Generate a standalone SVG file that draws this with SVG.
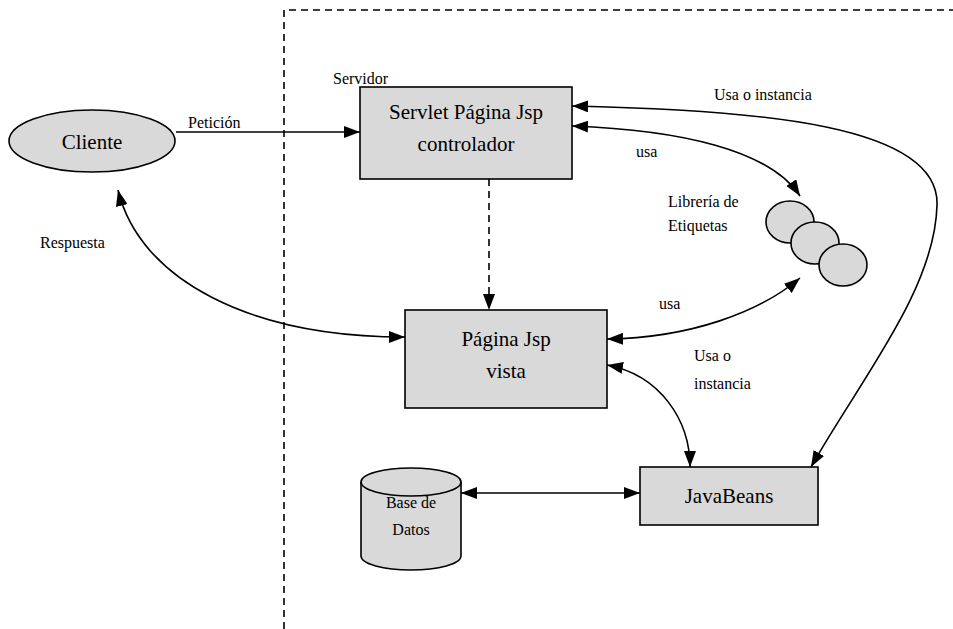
<svg xmlns="http://www.w3.org/2000/svg" width="953" height="629" viewBox="0 0 953 629">
<defs>
<marker id="ah" viewBox="0 0 16 12" refX="16" refY="6" markerWidth="16" markerHeight="12" markerUnits="userSpaceOnUse" orient="auto-start-reverse">
<path d="M0,0 L16,6 L0,12 Z" fill="#000"/>
</marker>
</defs>
<rect width="953" height="629" fill="#fff"/>
<g id="boundary">
<path d="M284,629 L284,10 L953,10" fill="none" stroke="#000" stroke-width="1.6" stroke-dasharray="7,5"/>
<text font-family="Liberation Serif" font-size="16" x="333" y="84">Servidor</text>
</g>
<g id="connectors" fill="none" stroke="#000" stroke-width="1.6">
<path d="M176,132 L360,132" marker-end="url(#ah)"/>
<path d="M572,106 C760,110 940,125 937,205 C935,290 860,380 811,467" marker-start="url(#ah)" marker-end="url(#ah)"/>
<path d="M572,126 C680,130 770,150 800,196" marker-start="url(#ah)" marker-end="url(#ah)"/>
<path d="M489,155 L489,310" stroke-dasharray="7,5" marker-end="url(#ah)"/>
<path d="M118,190 C140,280 250,337 405,337" marker-start="url(#ah)" marker-end="url(#ah)"/>
<path d="M607,339 C690,338 760,312 800,278" marker-start="url(#ah)" marker-end="url(#ah)"/>
<path d="M607,365 C660,375 690,420 690,467" marker-start="url(#ah)" marker-end="url(#ah)"/>
<path d="M461,493 L640,493" marker-start="url(#ah)" marker-end="url(#ah)"/>
</g>
<g id="labels" font-family="Liberation Serif" font-size="16" fill="#000">
<text x="188" y="128">Petición</text>
<text x="714" y="100">Usa o instancia</text>
<text x="636" y="157">usa</text>
<text x="40" y="248">Respuesta</text>
<text x="659" y="309">usa</text>
<text x="694" y="361">Usa o</text>
<text x="694" y="389">instancia</text>
</g>
<g id="cliente">
<ellipse cx="92" cy="141" rx="83" ry="31" fill="#d9d9d9" stroke="#000" stroke-width="1.6"/>
<text font-family="Liberation Serif" font-size="21" x="92" y="149" text-anchor="middle">Cliente</text>
</g>
<g id="servlet">
<rect x="360" y="87" width="212" height="92" fill="#d9d9d9" stroke="#000" stroke-width="1.6"/>
<text font-family="Liberation Serif" font-size="21" x="466" y="119" text-anchor="middle">Servlet Página Jsp</text>
<text font-family="Liberation Serif" font-size="21" x="466" y="151" text-anchor="middle">controlador</text>
</g>
<g id="libreria" fill="#d9d9d9" stroke="#000" stroke-width="1.6">
<ellipse cx="790" cy="222" rx="24" ry="21"/>
<ellipse cx="815" cy="243" rx="24" ry="21"/>
<ellipse cx="843" cy="265" rx="24" ry="21"/>
<text font-family="Liberation Serif" font-size="16" x="668" y="207" fill="#000" stroke="none">Librería de</text>
<text font-family="Liberation Serif" font-size="16" x="668" y="231" fill="#000" stroke="none">Etiquetas</text>
</g>
<g id="vista">
<rect x="405" y="310" width="202" height="98" fill="#d9d9d9" stroke="#000" stroke-width="1.6"/>
<text font-family="Liberation Serif" font-size="21" x="506" y="346" text-anchor="middle">Página Jsp</text>
<text font-family="Liberation Serif" font-size="21" x="506" y="378" text-anchor="middle">vista</text>
</g>
<g id="javabeans">
<rect x="640" y="467" width="178" height="58" fill="#d9d9d9" stroke="#000" stroke-width="1.6"/>
<text font-family="Liberation Serif" font-size="21" x="729" y="503" text-anchor="middle">JavaBeans</text>
</g>
<g id="basedatos">
<path d="M361,482 L361,556 A50,14 0 0 0 461,556 L461,482 A50,14 0 0 0 361,482 Z" fill="#d9d9d9" stroke="#000" stroke-width="1.6"/>
<path d="M361,482 A50,14 0 0 0 461,482" fill="none" stroke="#000" stroke-width="1.6"/>
<text font-family="Liberation Serif" font-size="16" x="411" y="508" text-anchor="middle">Base de</text>
<text font-family="Liberation Serif" font-size="16" x="411" y="535" text-anchor="middle">Datos</text>
</g>
</svg>
